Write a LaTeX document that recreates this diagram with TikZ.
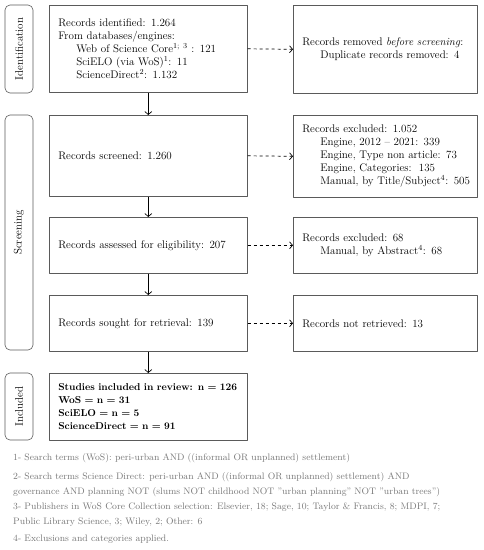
\documentclass[tikz,border=0pt]{standalone}
\usetikzlibrary{arrows.meta}
\definecolor{linegray}{RGB}{90,90,90}
\definecolor{notegray}{RGB}{120,120,120}
\begin{document}
\begin{tikzpicture}[x=1pt, y=-1pt, font=\fontsize{11}{13}\selectfont, line join=round, >={Straight Barb[length=3pt,width=7pt]},
	box/.style={draw=linegray, line width=0.6pt, minimum width=198pt, text width=180pt, align=left, inner sep=0pt, anchor=north west},
	rbox/.style={box, minimum width=184pt, text width=166pt},
	side/.style={draw=linegray, line width=0.6pt, rounded corners=5pt, rotate=90, minimum height=28pt, inner sep=0pt},
	link/.style={->, line width=0.7pt},
	note/.style={anchor=north west, text=notegray, font=\fontsize{9.4}{15}\selectfont, align=left, inner sep=0pt}]
	\useasboundingbox (0,0) rectangle (483,550);
	\def\ind{\hspace*{18pt}}
	% stage labels
	\node[side, minimum width=88pt] (lident) at (19,49) {Identification};
	\node[side, minimum width=235pt] (lscreen) at (19,232.5) {Screening};
	\node[side, minimum width=67pt] (lincl) at (19,406.5) {Included};
	% main column
	\node[box, minimum height=87pt] (ident) at (49,5) {Records identified: 1.264\\
		From databases/engines:\\
		\ind Web of Science Core\textsuperscript{1; 3} : 121\\
		\ind SciELO (via WoS)\textsuperscript{1}: 11\\
		\ind ScienceDirect\textsuperscript{2}: 1.132};
	\node[box, minimum height=81pt] (screen) at (49,115) {Records screened: 1.260};
	\node[box, minimum height=56pt] (assess) at (49,217) {Records assessed for eligibility: 207};
	\node[box, minimum height=56pt] (sought) at (49,295) {Records sought for retrieval: 139};
	\node[box, minimum height=67pt, font=\fontsize{10}{13}\selectfont\bfseries] (incl) at (49,373) {Studies included in review: n = 126\\
		WoS = n = 31\\
		SciELO = n = 5\\
		ScienceDirect = n = 91};
	% right column
	\node[rbox, minimum height=88pt] (removed) at (293,5) {Records removed \emph{before screening}:\\
		\ind Duplicate records removed: 4};
	\node[rbox, minimum height=82pt] (excl) at (293,115) {Records excluded: 1.052\\
		\ind Engine, 2012 -- 2021: 339\\
		\ind Engine, Type non article: 73\\
		\ind Engine, Categories:\ \ 135\\
		\ind \mbox{Manual, by Title/Subject\textsuperscript{4}: 505}};
	\node[rbox, minimum height=56pt] (exclabs) at (293,217) {Records excluded: 68\\
		\ind Manual, by Abstract\textsuperscript{4}: 68};
	\node[rbox, minimum height=56pt] (notret) at (293,295) {Records not retrieved: 13};
	% connectors
	\draw[link] (ident) -- (screen);
	\draw[link] (screen) -- (assess);
	\draw[link] (assess) -- (sought);
	\draw[link] (sought) -- (incl);
	\draw[link, dashed] (ident.east) -- (removed.west);
	\draw[link, dashed] (screen.east) -- (excl.west);
	\draw[link, dashed] (assess.east) -- (exclabs.west);
	\draw[link, dashed] (sought.east) -- (notret.west);
	% notes
	\node[note] (n1) at (13,453) {1- Search terms (WoS): peri-urban AND ((informal OR unplanned) settlement)};
	\node[note] (n2) at (13,472) {2- Search terms Science Direct: peri-urban AND ((informal OR unplanned) settlement) AND\\
		governance AND planning NOT (slums NOT childhood NOT "urban planning" NOT "urban trees")};
	\node[note] (n3) at (13,503) {3- Publishers in WoS Core Collection selection: Elsevier, 18; Sage, 10; Taylor \& Francis, 8; MDPI, 7;\\
		Public Library Science, 3; Wiley, 2; Other: 6};
	\node[note] (n4) at (13,535) {4- Exclusions and categories applied.};
\end{tikzpicture}
\end{document}
